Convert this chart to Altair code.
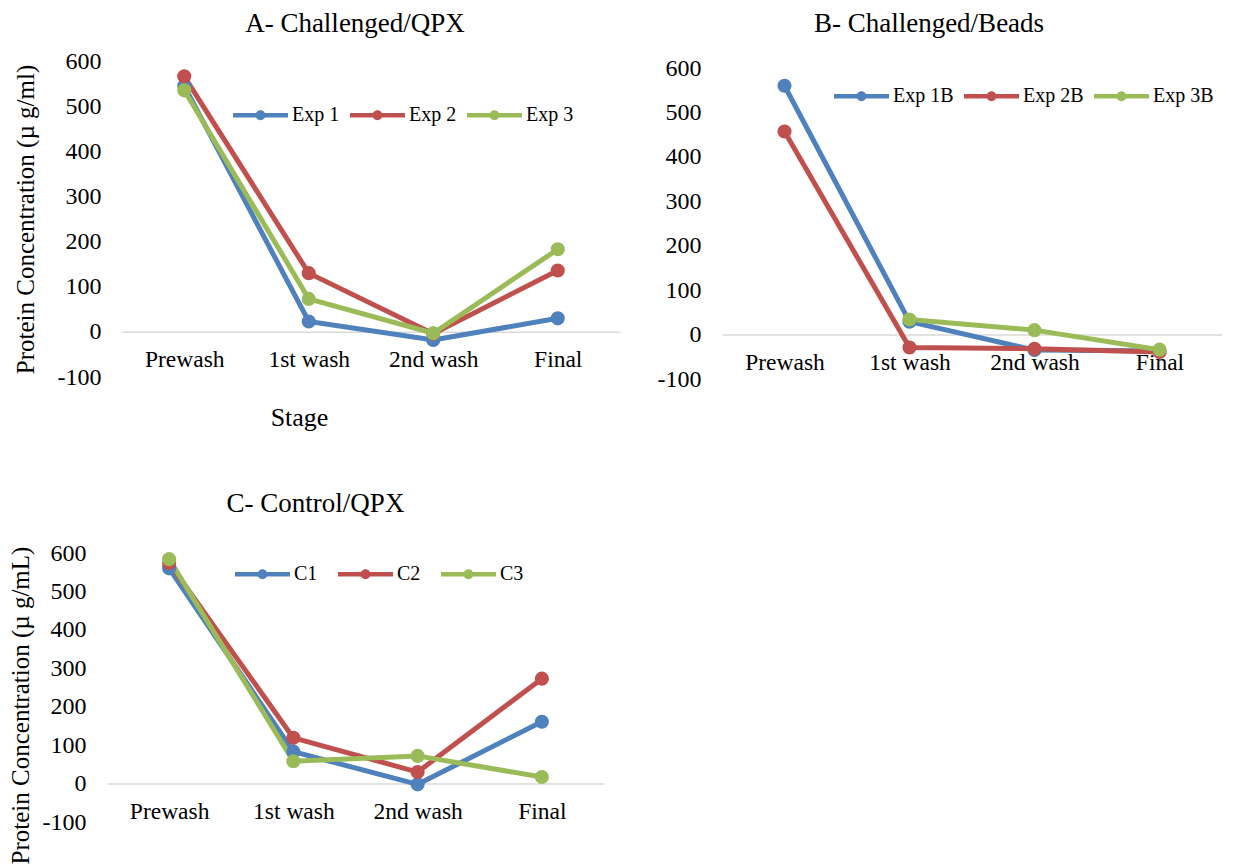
import altair as alt
import pandas as pd

stages = ["Prewash", "1st wash", "2nd wash", "Final"]

a_series = ["Exp 1", "Exp 2", "Exp 3"]
a_exp1 = [545, 23, -18, 30]
a_exp2 = [566, 130, -4, 136]
a_exp3 = [535, 73, -3, 183]

b_series = ["Exp 1B", "Exp 2B", "Exp 3B"]
b_exp1b = [560, 29, -35, -37]
b_exp2b = [457, -29, -32, -39]
b_exp3b = [None, 34, 10, -34]

c_series = ["C1", "C2", "C3"]
c_c1 = [560, 83, -2, 161]
c_c2 = [574, 119, 30, 273]
c_c3 = [584, 58, 72, 17]

colors = ["#4F81BD", "#C0504D", "#9BBB59"]
y_ticks = [-100, 0, 100, 200, 300, 400, 500, 600]

FONT = "Liberation Serif"
SYMBOL = ("M-1,-0.085H1V0.085H-1Z "
          "M-0.18,0A0.18,0.18 0 1,1 0.18,0A0.18,0.18 0 1,1 -0.18,0Z")


def long_frame(series, values):
    rows = []
    for name, vals in zip(series, values):
        for st, v in zip(stages, vals):
            if v is not None:
                rows.append({"Stage": st, "Value": v, "Series": name})
    return pd.DataFrame(rows)


def panel(df, series, width, height, x_range, y_range, title, title_dx, title_offset,
          ytitle, ytitle_x, ytitle_y, ylabel_pad, xtitle, xtitle_x, xtitle_y,
          legend_x, legend_y, col_pad):
    r0, r1 = y_range
    zero_px = r0 - (r0 - r1) / 7.0
    zero_off = -(height - zero_px)
    x_axis = alt.Axis(
        title=xtitle if xtitle else None,
        offset=zero_off, domainColor="#D9D9D9", domainWidth=1.5,
        ticks=False, labelPadding=16, labelFontSize=23.5, labelFont=FONT,
        labelColor="black", labelAngle=0,
        titleFont=FONT, titleFontSize=26, titleFontWeight="normal",
        titleColor="black", titleX=xtitle_x, titleY=xtitle_y,
        titleBaseline="middle", titleAlign="center",
    )
    y_axis_kw = dict(
        values=y_ticks, grid=False, domain=False, ticks=False, tickSize=0,
        labelPadding=ylabel_pad, labelFontSize=24, labelFont=FONT, labelColor="black",
        labelExpr="'' + datum.value",
    )
    if ytitle:
        y_axis = alt.Axis(title=ytitle, titleFont=FONT, titleFontSize=25,
                          titleFontWeight="normal", titleColor="black",
                          titleX=ytitle_x, titleY=ytitle_y, titleAngle=270,
                          titleBaseline="middle", titleAlign="center",
                          **y_axis_kw)
    else:
        y_axis = alt.Axis(title=None, **y_axis_kw)

    base = alt.Chart(df).encode(
        x=alt.X("Stage:N", sort=stages,
                scale=alt.Scale(type="point", padding=0.5, range=list(x_range)),
                axis=x_axis),
        y=alt.Y("Value:Q", scale=alt.Scale(domain=[-100, 600], nice=False, zero=False,
                                           range=list(y_range)),
                axis=y_axis),
    )
    lines = base.mark_line(strokeWidth=5).encode(
        color=alt.Color("Series:N", scale=alt.Scale(domain=series, range=colors),
                        legend=None)
    )
    points = base.mark_point(filled=True, size=200, opacity=1).encode(
        color=alt.Color("Series:N", scale=alt.Scale(domain=series, range=colors),
                        legend=alt.Legend(
            title=None, orient="none", legendX=legend_x, legendY=legend_y,
            direction="horizontal", symbolType=SYMBOL, symbolSize=3025,
            symbolStrokeWidth=0, symbolOpacity=1, labelFontSize=20,
            labelFont=FONT, labelColor="black", columnPadding=col_pad,
            labelOffset=4,
        ))
    )
    return alt.layer(lines, points).resolve_scale(color="independent").properties(
        width=width, height=height,
        title=alt.TitleParams(title, font=FONT, fontSize=27, fontWeight="normal",
                              color="black", anchor="middle", frame="group",
                              dx=title_dx, offset=title_offset),
    )


df_a = long_frame(a_series, [a_exp1, a_exp2, a_exp3])
df_b = long_frame(b_series, [b_exp1b, b_exp2b, b_exp3b])
df_c = long_frame(c_series, [c_c1, c_c2, c_c3])

chart_a = panel(df_a, a_series, 513, 316, (15, 513), (316, 0),
                "A- Challenged/QPX", -8.5, 11,
                "Protein Concentration (µ g/ml)", -82, 158, 6,
                "Stage", 192, 86, 126, 26.5, 10)
chart_b = panel(df_b, b_series, 500, 318, (0, 500), (318, 7),
                "B- Challenged/Beads", -43, 18,
                None, 0, 0, 21, None, 0, 0, 112, 7.5, 10)
chart_c = panel(df_c, c_series, 497, 269, (0, 497), (269, 0),
                "C- Control/QPX", -40, 23,
                "Protein Concentration (µ g/mL)", -87, 152, 21,
                None, 0, 0, 128, -6.5, 20)

chart = alt.ConcatChart(
    concat=[chart_a, chart_b, chart_c],
    columns=2,
    align="none",
    bounds="full",
    spacing={"row": 59, "column": 37},
).properties(
    padding={"left": 0, "top": 2, "right": 0, "bottom": 0},
    background="white",
).configure(font=FONT).configure_view(stroke=None)

chart.save("out.html", embed_options={"renderer": "svg", "actions": False})
